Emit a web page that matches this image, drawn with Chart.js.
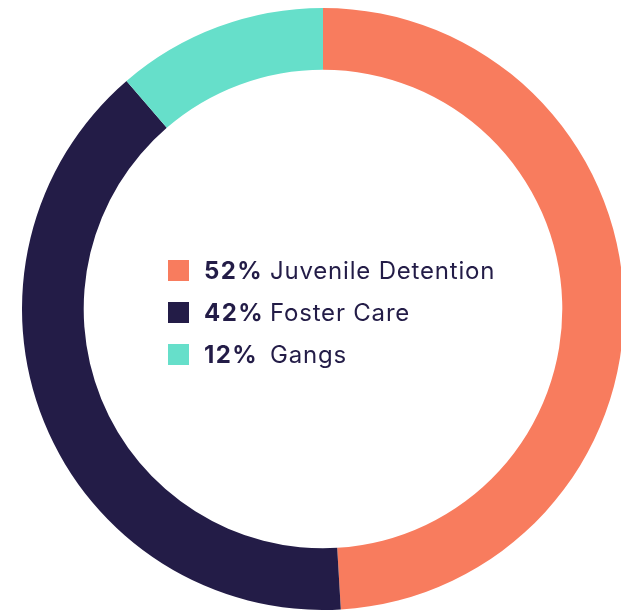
<!DOCTYPE html>
<html>
<head>
<meta charset="utf-8">
<script src="https://cdn.jsdelivr.net/npm/chart.js@4.4.1/dist/chart.umd.min.js"></script>
<style>
  html, body { margin: 0; padding: 0; background: #fff; overflow: hidden; }
  body { width: 621px; height: 612px; position: relative; }
  #wrap { position: absolute; left: 22px; top: 8px; width: 602px; height: 602px; }
  #legend { position: absolute; left: 168px; top: 249px; font-family: Inter, "Noto Sans", sans-serif; color: #231c47; font-size: 24px; letter-spacing: 0.8px; }
  .row { display: flex; align-items: center; height: 42px; }
  .box { width: 21px; height: 21px; margin-right: 15px; }
  .pct { font-weight: 700; width: 66px; letter-spacing: 1.4px; }
</style>
</head>
<body>
<div id="wrap"><canvas id="grafico"></canvas></div>
<div id="legend"></div>
<script>
var categorias = ['Juvenile Detention', 'Foster Care', 'Gangs'];
var valores = [52, 42, 12];
var cores = ['#f87c5e', '#231c47', '#66dfca'];

document.addEventListener("DOMContentLoaded", function() {
    var ctx = document.getElementById('grafico').getContext('2d');
    var chart = new Chart(ctx, {
        type: 'doughnut',
        data: {
            labels: categorias,
            datasets: [{
                data: valores,
                backgroundColor: cores,
                borderWidth: 0
            }]
        },
        options: {
            responsive: true,
            maintainAspectRatio: false,
            animation: false,
            cutout: '79.5%',
            plugins: {
                legend: { display: false },
                tooltip: { enabled: false }
            }
        }
    });

    // legenda no centro
    var legenda = document.getElementById('legend');
    categorias.forEach(function(nome, i) {
        var linha = document.createElement('div');
        linha.className = 'row';
        linha.innerHTML = '<span class="box" style="background:' + cores[i] + '"></span>' +
            '<span class="pct">' + valores[i] + '%</span><span>' + nome + '</span>';
        legenda.appendChild(linha);
    });
});
</script>
</body>
</html>
